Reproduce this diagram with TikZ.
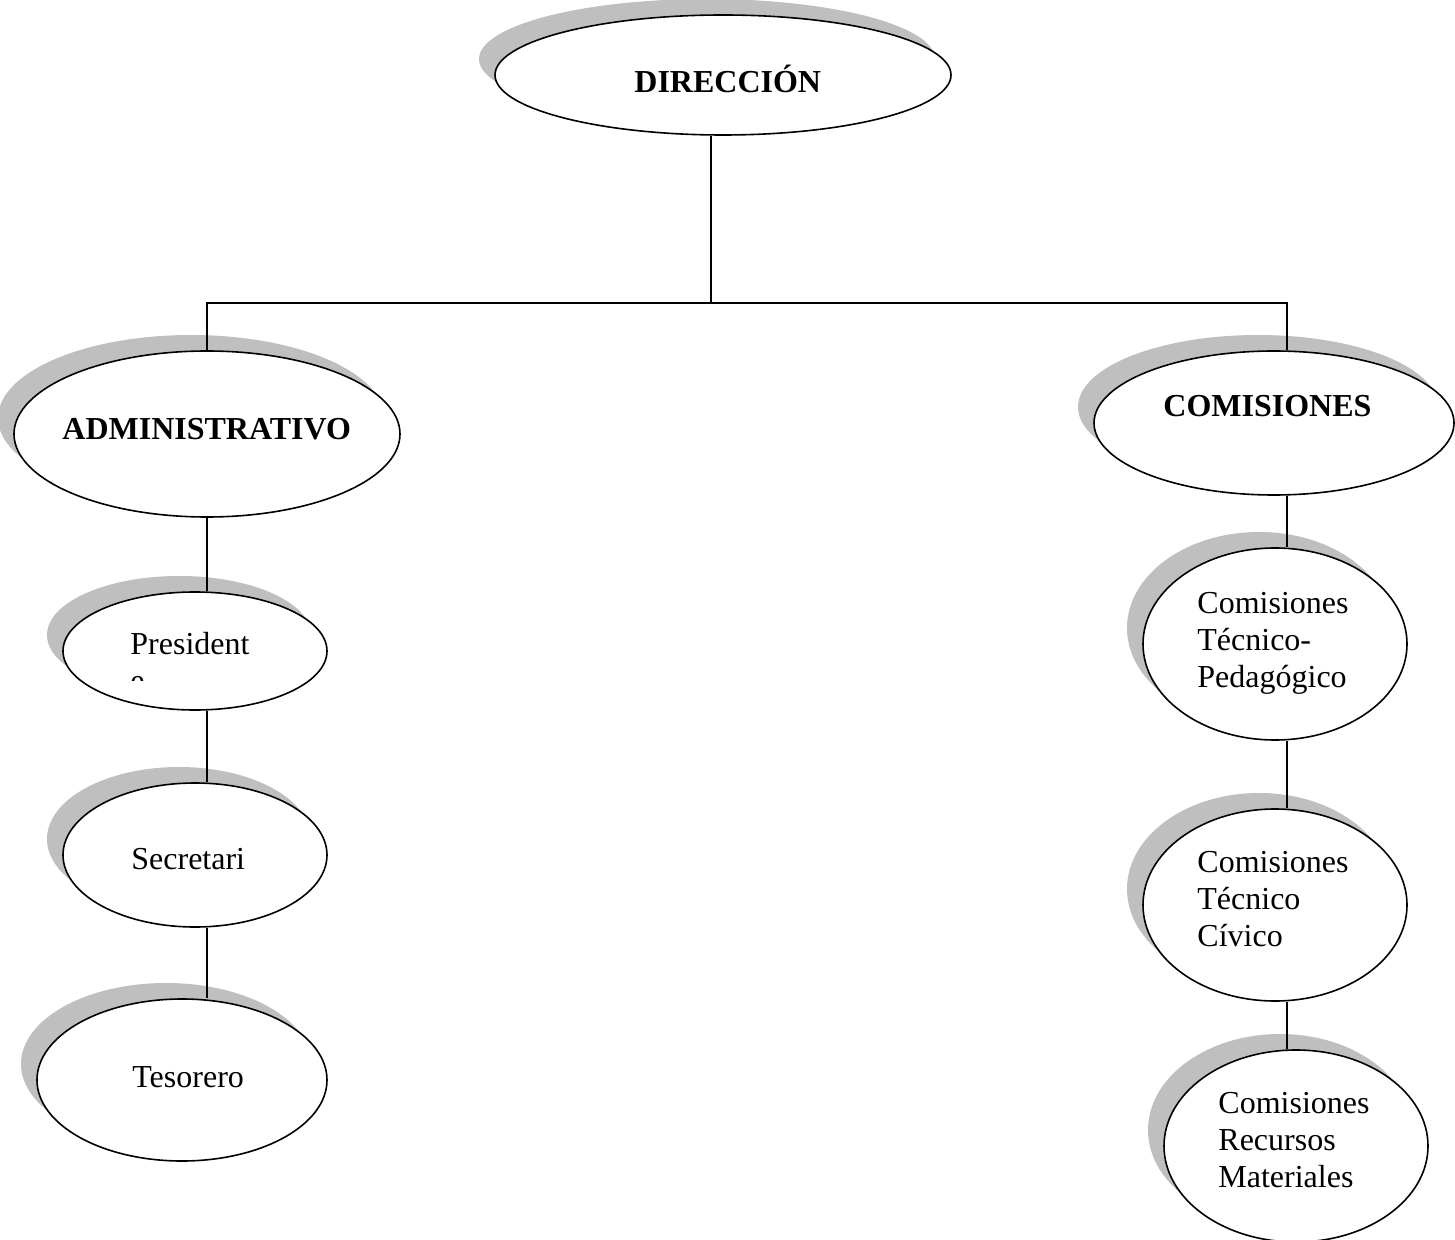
\documentclass[tikz,border=0pt]{standalone}
\usepackage{fontspec}
\setmainfont{Liberation Serif}
\usetikzlibrary{shapes.geometric,shadows}

\tikzset{
  unit/.style={ellipse, draw, line width=0.8pt, fill=white, inner sep=0pt,
    drop shadow={shadow xshift=-8pt, shadow yshift=8pt, fill=gray!50, opacity=1}},
  lbl/.style={anchor=base west, inner sep=0pt, align=left,
    font=\fontsize{16}{18.5}\selectfont},
  head/.style={lbl, font=\fontsize{16}{18.5}\selectfont\bfseries},
  link/.style={line width=0.8pt}
}

\begin{document}
\begin{tikzpicture}[x=0.5pt,y=-0.5pt]
    \useasboundingbox (0,0) rectangle (1455,1240);
    % ellipses
    \node[unit, minimum width=228pt, minimum height=60pt] (dir) at (723,75) {};
    \node[unit, minimum width=193pt, minimum height=83pt] (adm) at (207,434) {};
    \node[unit, minimum width=180pt, minimum height=72pt] (com) at (1274,423) {};
    \node[unit, minimum width=132pt, minimum height=59pt] (pres) at (195,651) {};
    \node[unit, minimum width=132pt, minimum height=72pt] (sec) at (195,855) {};
    \node[unit, minimum width=145pt, minimum height=81pt] (tes) at (182,1080) {};
    \node[unit, minimum width=132pt, minimum height=96pt] (ped) at (1275,644) {};
    \node[unit, minimum width=132pt, minimum height=96pt] (civ) at (1275,905) {};
    \node[unit, minimum width=132pt, minimum height=96pt] (rec) at (1296,1146) {};
    % texts (base = last line)
    \node[head] (tdir) at (634,93) {DIRECCIÓN};
    \node[head] (tadm) at (62,440) {ADMINISTRATIVO};
    \node[head] (tcom) at (1163,417) {COMISIONES};
    \begin{scope}
        \clip (100,600) rectangle (300,680);
        \node[lbl] (tpres) at (130,691) {President\\e};
    \end{scope}
    \node[lbl] (tsec) at (131,869) {Secretari};
    \node[lbl] (ttes) at (132,1087) {Tesorero};
    \node[lbl] (tped) at (1197,687) {Comisiones\\Técnico-\\Pedagógico};
    \node[lbl] (tciv) at (1197,946) {Comisiones\\Técnico\\Cívico};
    \node[lbl] (trec) at (1218,1187) {Comisiones\\Recursos\\Materiales};
    % connectors
    \coordinate (xl) at (207,303);
    \coordinate (xc) at (711,303);
    \coordinate (xr) at (1287,303);
    \draw[link] (dir.south -| xc) -- (xc);
    \draw[link] (adm.north -| xl) -- (xl) -- (xr) -- (com.north -| xr);
    \draw[link] (adm.south -| xl) -- (pres.north -| xl);
    \draw[link] (pres.south -| xl) -- (sec.north -| xl);
    \draw[link] (sec.south -| xl) -- (tes.north -| xl);
    \draw[link] (com.south -| xr) -- (ped.north -| xr);
    \draw[link] (ped.south -| xr) -- (civ.north -| xr);
    \draw[link] (civ.south -| xr) -- (rec.north -| xr);
\end{tikzpicture}
\end{document}
